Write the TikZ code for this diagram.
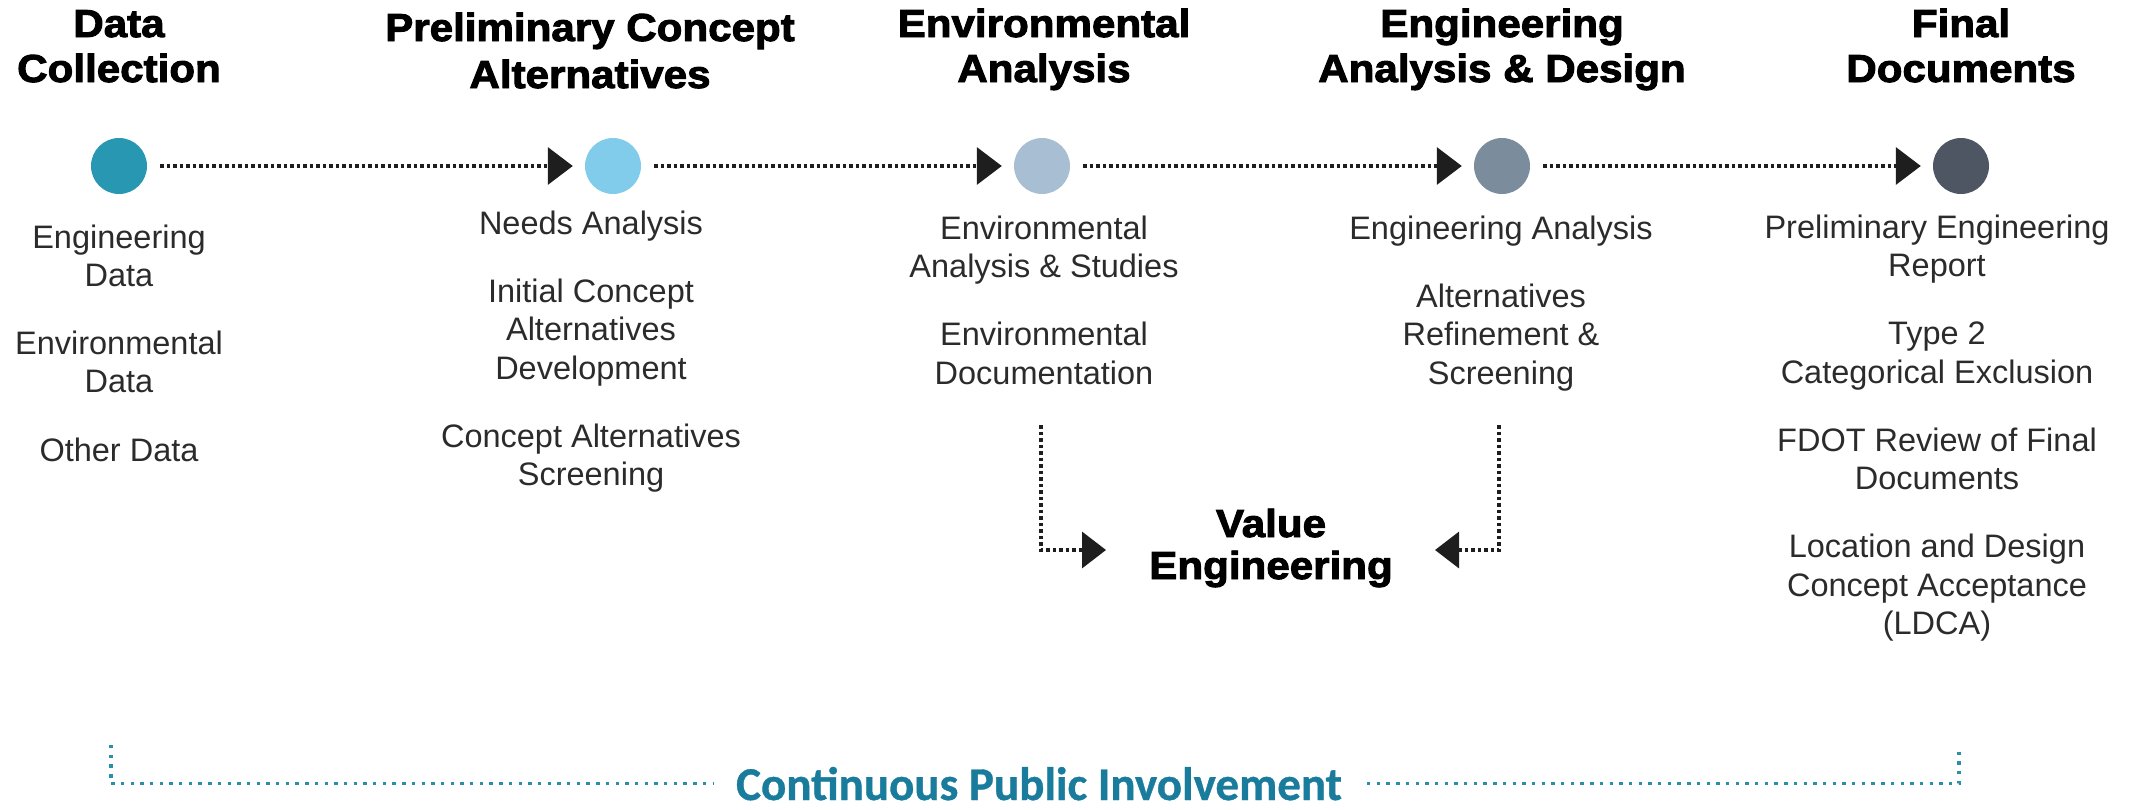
\documentclass[tikz,border=0pt]{standalone}
\usepackage{fontspec}
\setmainfont{Liberation Sans}
\newfontface\titlefont[FakeStretch=1.08,FakeBold=2.5]{Liberation Sans Bold}
\newfontface\cpifont[FakeBold=0.8]{Carlito Bold}
\usetikzlibrary{arrows.meta}
\definecolor{cA}{HTML}{2897B1}
\definecolor{cB}{HTML}{80CCEA}
\definecolor{cC}{HTML}{A8BED2}
\definecolor{cD}{HTML}{7B8C9D}
\definecolor{cE}{HTML}{4F5663}
\definecolor{bodytext}{HTML}{2B2B2B}
\definecolor{arrowc}{HTML}{1E1E1E}
\definecolor{piline}{HTML}{2A8FA8}
\definecolor{pitext}{HTML}{1A7C9C}
\begin{document}
\begin{tikzpicture}[x=1pt,y=-1pt,
  body/.style={anchor=base, inner sep=0pt, text=bodytext, font=\fontsize{32.5}{38}\selectfont},
  ttl/.style={anchor=base, inner sep=0pt, text=black, font=\fontsize{39}{45}\titlefont},
  dotnode/.style={circle, inner sep=0pt, minimum size=56pt},
  flow/.style={draw=arrowc, line width=3.5pt, dash pattern=on 3.5pt off 3pt,
    -{Triangle[length=25pt,width=37pt]}, shorten >=12pt, shorten <=13pt},
  veflow/.style={draw=arrowc, line width=3.5pt, dash pattern=on 3.5pt off 3pt,
    -{Triangle[length=24pt,width=36pt]}},
  piflow/.style={draw=piline, line width=3.4pt, dash pattern=on 3.4pt off 6.3pt}
]
\useasboundingbox (0,0) rectangle (2131,809);

% titles
\node[ttl] (t1a) at (119,37) {Data};
\node[ttl] (t1b) at (119,82) {Collection};
\node[ttl] (t2a) at (590,41) {Preliminary Concept};
\node[ttl] (t2b) at (590,88) {Alternatives};
\node[ttl] (t3a) at (1044,37) {Environmental};
\node[ttl] (t3b) at (1044,82) {Analysis};
\node[ttl] (t4a) at (1502,37) {Engineering};
\node[ttl] (t4b) at (1502,82) {Analysis \& Design};
\node[ttl] (t5a) at (1961,37) {Final};
\node[ttl] (t5b) at (1961,82) {Documents};

% milestone dots
\node[dotnode, fill=cA] (c1) at (119,166) {};
\node[dotnode, fill=cB] (c2) at (613,166) {};
\node[dotnode, fill=cC] (c3) at (1042,166) {};
\node[dotnode, fill=cD] (c4) at (1502,166) {};
\node[dotnode, fill=cE] (c5) at (1961,166) {};

\draw[flow] (c1.east) -- (c2.west);
\draw[flow] (c2.east) -- (c3.west);
\draw[flow] (c3.east) -- (c4.west);
\draw[flow] (c4.east) -- (c5.west);

% column texts
\foreach \t/\y [count=\i] in {Engineering/248, Data/286.5, Environmental/354, Data/392.5, Other Data/461}
  \node[body, name=a\i] at (119,\y) {\t};
\foreach \t/\y [count=\i] in {Needs Analysis/234, Initial Concept/302, Alternatives/340.5, Development/379, Concept Alternatives/447, Screening/485.5}
  \node[body, name=b\i] at (591,\y) {\t};
\foreach \t/\y [count=\i] in {Environmental/239, Analysis \& Studies/277.5, Environmental/345.5, Documentation/384}
  \node[body, name=d\i] at (1044,\y) {\t};
\foreach \t/\y [count=\i] in {Engineering Analysis/239, Alternatives/307, Refinement \&/345.5, Screening/384}
  \node[body, name=e\i] at (1501,\y) {\t};
\foreach \t/\y [count=\i] in {Preliminary Engineering/238, Report/276.5, Type 2/344.5, Categorical Exclusion/383, FDOT Review of Final/451, Documents/489.5, Location and Design/557.5, Concept Acceptance/596, (LDCA)/634.5}
  \node[body, name=f\i] at (1937,\y) {\t};

% value engineering
\node[ttl] (vea) at (1271,537) {Value};
\node[ttl] (veb) at (1271,579) {Engineering};
\coordinate (vs3) at (1041,425);
\coordinate (vs4) at (1499,425);
\coordinate (vel) at (1106,550);
\coordinate (ver) at (1435,550);
\draw[veflow] (vs3) |- (vel);
\draw[veflow] (vs4) |- (ver);

% continuous public involvement
\node[anchor=base, inner sep=0pt, text=pitext, font=\fontsize{47}{50}\cpifont] (cpi) at (1039,800) {Continuous Public Involvement};
\coordinate (pl) at (111,745);
\coordinate (pr) at (1959,752);
\draw[piflow, shorten >=23pt] (pl) |- (cpi.west);
\draw[piflow, shorten <=25pt] (cpi.east) -| (pr);
\end{tikzpicture}
\end{document}
